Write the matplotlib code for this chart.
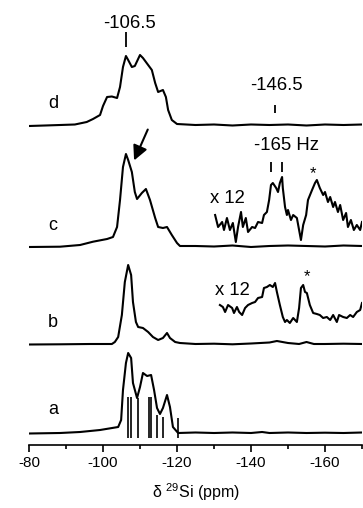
import numpy as np
import matplotlib
matplotlib.use("Agg")
import matplotlib.pyplot as plt

plt.rcParams['font.family'] = ['Liberation Sans', 'DejaVu Sans']
plt.rcParams['mathtext.fontset'] = 'custom'
plt.rcParams['mathtext.rm'] = 'Liberation Sans'

##########################################################################################
## spectra (ppm, intensity above own baseline) ########
##########################################################################################
ppm_a = [-80.0, -88.4, -93.8, -99.2, -104.1, -104.9, -105.4, -106.2, -106.8, -107.6, -108.1,
         -109.2, -110.0, -110.8, -111.9, -113.0, -113.8, -114.6, -115.4, -116.2, -117.3,
         -118.1, -118.9, -120.3, -125, -130, -135, -140, -143, -145, -150, -155, -160, -165, -170]
int_a = [-0.5, 0, 1, 3, 6, 13, 43, 70, 80, 75, 50,
         35, 46, 60, 57, 58, 43, 25, 19, 25, 38,
         26, 6, 0, 0.5, 0, 0.5, 0, 1, 0, 0.5, 0, 0.3, 0, 0.5]

# calculated line positions under a
stick_ppm = [-106.8, -107.5, -109.5, -112.4, -113.0, -114.5, -116.2, -120.4]
stick_int = [36, 36, 35, 36, 36, 18, 16, 15]

ppm_b = [-80.0, -88.4, -96.5, -102.4, -103.2, -104.1, -105.1, -105.9, -106.8, -107.6, -108.1,
         -108.9, -109.5, -110.8, -112.2, -113.5, -114.9, -116.2, -117.3, -118.1, -119.5,
         -120.8, -125, -130, -135, -140, -145, -147, -150, -153, -155, -157, -160, -165, -170]
int_b = [-0.5, -0.3, 0, 0, 2, 7, 29, 62, 79, 69, 42,
         22, 17, 16, 12, 7, 4, 6, 11, 6, 2,
         1, 0, 0.3, -0.3, 0.5, 1.5, 3, 1, 0, 2, 0, 0, 0.3, 0]

ppm_b12 = [-131.6, -132.4, -133.0, -133.8, -134.9, -135.4, -136.2, -136.8, -137.6, -138.4,
           -139.2, -140.3, -141.1, -141.9, -143.0, -143.5, -144.3, -145.1, -145.9, -146.5,
           -147.0, -147.8, -148.6, -149.2, -149.7, -150.5, -151.4, -152.4, -153.0, -153.5,
           -154.1, -154.6, -155.1, -155.9, -156.8, -157.8, -158.6, -159.5, -160.5, -161.4,
           -162.2, -163.2, -163.8, -164.9, -165.9, -166.8, -167.6, -168.6, -169.5, -170.0]
int_b12 = [39, 37, 32, 39, 36, 31, 37, 32, 29, 36,
           39, 41, 42, 46, 47, 56, 57, 59, 57, 61,
           52, 39, 27, 22, 24, 21, 26, 22, 36, 56,
           59, 52, 51, 39, 31, 30, 29, 26, 27, 24,
           29, 22, 29, 27, 26, 29, 27, 32, 34, 41]

ppm_c = [-80.0, -88.4, -93.8, -97.3, -101.1, -102.7, -103.8, -104.6, -105.4, -106.2, -106.8,
         -107.8, -108.6, -109.2, -110.5, -111.6, -112.7, -114.1, -114.9, -116.2, -117.3,
         -118.6, -120.0, -120.8, -125, -130, -135, -140, -145, -150, -155, -160, -165, -170]
int_c = [-1, -0.7, 1, 4.3, 7, 9, 19, 46, 79, 92, 86,
         74, 54, 47, 53, 57, 46, 28, 19, 18, 19,
         11, 3, 0, 0, -0.5, 0.5, -1, 0, 0.5, 0, -0.5, 0.5, 0]

ppm_c12 = [-130.3, -131.1, -132.2, -132.7, -133.5, -134.3, -135.1, -135.9, -136.5, -137.3,
           -137.8, -138.6, -139.2, -140.3, -141.1, -141.9, -143.0, -143.5, -144.3, -144.9,
           -145.4, -145.9, -146.8, -147.3, -147.8, -148.4, -148.6, -149.2, -149.7, -150.0,
           -150.8, -151.4, -152.4, -153.0, -153.5, -154.1, -154.9, -155.4, -156.5, -157.3,
           -157.8, -158.6, -159.5, -160.0, -160.8, -161.4, -162.2, -162.7, -163.5, -164.1,
           -164.9, -165.7, -166.2, -167.0, -167.8, -168.6, -169.5, -170.0]
int_c12 = [31, 19, 24, 16, 28, 16, 23, 4, 19, 34,
           19, 28, 14, 19, 18, 24, 23, 31, 34, 46,
           61, 63, 58, 54, 63, 69, 58, 39, 31, 36,
           26, 31, 28, 16, 6, 21, 31, 46, 56, 63,
           66, 58, 51, 54, 44, 49, 39, 44, 34, 41,
           26, 33, 19, 26, 16, 21, 16, 24]

ppm_d = [-80.0, -84.3, -88.4, -92.4, -95.6, -97.3, -99.2, -100.0, -101.1, -102.4, -103.8,
         -104.6, -105.4, -106.2, -106.8, -107.8, -108.6, -110.0, -110.8, -112.2, -113.2,
         -114.1, -114.9, -116.2, -117.0, -117.6, -118.6, -120.0, -125, -130, -135, -140,
         -145, -150, -155, -160, -165, -170]
int_d = [-1, -0.5, 0, 0.5, 3, 6, 10, 19, 28, 28.5, 27,
         38, 58, 69, 65, 58, 59, 70, 67, 60, 55,
         42, 33, 35, 28, 15, 5, 1, 0, 0.5, -0.5, 0.5,
         0, 0.5, -0.5, 0.5, 0, 0.5]

labels = ['a', 'b', 'c', 'd']
offsets = [12, 101, 199, 320]

##########################################################################################
fig = plt.figure(figsize=(3.63, 5.08), dpi=100)
ax = fig.add_axes([29 / 363, 63 / 508, 333 / 363, 445 / 508])

lw = 1.5
ax.plot(ppm_a, np.array(int_a) + offsets[0], color='k', lw=lw)
ax.plot(ppm_b, np.array(int_b) + offsets[1], color='k', lw=lw)
ax.plot(ppm_b12, np.array(int_b12) + offsets[1], color='k', lw=lw)
ax.plot(ppm_c, np.array(int_c) + offsets[2], color='k', lw=lw)
ax.plot(ppm_c12, np.array(int_c12) + offsets[2], color='k', lw=lw)
ax.plot(ppm_d, np.array(int_d) + offsets[3], color='k', lw=lw)

# stick spectrum
ax.vlines(stick_ppm, offsets[0] - 5, np.array(stick_int) + offsets[0], color='k', lw=1.2)

# trace letters
label_y = [31, 118, 215, 337]
for lab, yy in zip(labels, label_y):
    ax.text(-86.5, yy, lab, fontsize=13, ha='center', va='baseline')

# annotations
fs = 13.3
ax.text(-107.2, 417, '-106.5', fontsize=fs, ha='center', va='baseline')
ax.vlines(-106.2, 398, 413, color='k', lw=1.3)
ax.text(-147.0, 355, '-146.5', fontsize=fs, ha='center', va='baseline')
ax.vlines(-146.5, 332, 340, color='k', lw=1.3)
ax.text(-149.7, 295, '-165 Hz', fontsize=fs, ha='center', va='baseline')
ax.vlines([-145.4, -148.4], 273, 283, color='k', lw=1.3)
ax.text(-133.5, 242, 'x 12', fontsize=fs, ha='center', va='baseline')
ax.text(-134.9, 150, 'x 12', fontsize=fs, ha='center', va='baseline')
ax.text(-156.8, 271, '*', fontsize=12, ha='center', va='center')
ax.text(-155.1, 168, '*', fontsize=12, ha='center', va='center')

ax.annotate('', xy=(-108.1, 282), xytext=(-112.4, 318),
            arrowprops=dict(arrowstyle='-|>', mutation_scale=22, lw=1.5, color='k'))

ax.set_xlim(-80, -170)
ax.set_ylim(0, 445)
ax.set_xticks([-80, -100, -120, -140, -160])
ax.set_xticklabels(['-80', '-100', '-120', '-140', '-160'])
ax.set_xticks([-90, -110, -130, -150, -170], minor=True)
ax.tick_params(axis='x', which='major', length=5, width=1.2, labelsize=11, pad=3)
ax.tick_params(axis='x', which='minor', length=3, width=1.2)
ax.set_yticks([])
for s in ['left', 'right', 'top']:
    ax.spines[s].set_visible(False)
ax.spines['bottom'].set_linewidth(1.2)
ax.set_xlabel('\u03b4 $^{29}$Si (ppm)', fontsize=11.5, labelpad=8)

plt.savefig('out.png', dpi=100)
